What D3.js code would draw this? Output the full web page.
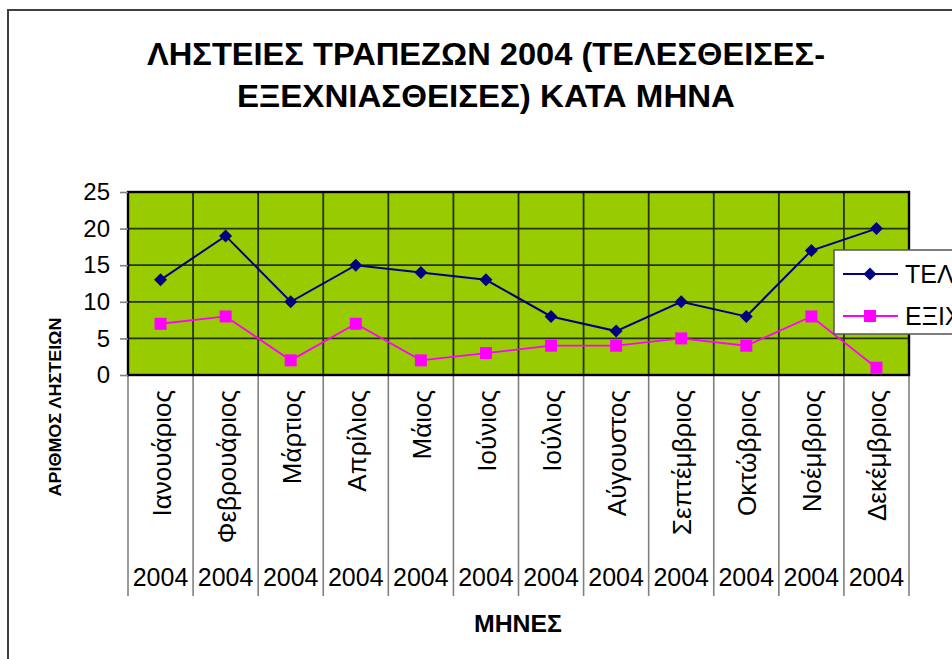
<!DOCTYPE html>
<html>
<head>
<meta charset="utf-8">
<script src="https://cdn.jsdelivr.net/npm/d3@7/dist/d3.min.js"></script>
<style>
  html, body { margin: 0; padding: 0; background: #fff; }
  svg { display: block; font-family: "Liberation Sans", Arial, sans-serif; }
</style>
</head>
<body>
<svg id="chart" width="952" height="659"></svg>
<script>
// Monthly bank robberies in 2004: committed vs. solved
const months = ["Ιανουάριος", "Φεβρουάριος", "Μάρτιος", "Απρίλιος", "Μάιος", "Ιούνιος",
                "Ιούλιος", "Αύγουστος", "Σεπτέμβριος", "Οκτώβριος", "Νοέμβριος", "Δεκέμβριος"];
const year = "2004";
const committed = [13, 19, 10, 15, 14, 13, 8, 6, 10, 8, 17, 20];
const solved = [7, 8, 2, 7, 2, 3, 4, 4, 5, 4, 8, 1];
const seriesNames = ["ΤΕΛΕΣΘΕΙΣΕΣ", "ΕΞΙΧΝΙΑΣΘΕΙΣΕΣ"];
const yTicks = [0, 5, 10, 15, 20, 25];
const titleLines = ["ΛΗΣΤΕΙΕΣ ΤΡΑΠΕΖΩΝ 2004 (ΤΕΛΕΣΘΕΙΣΕΣ-", "ΕΞΕΧΝΙΑΣΘΕΙΣΕΣ) ΚΑΤΑ ΜΗΝΑ"];
const xTitle = "ΜΗΝΕΣ";
const yTitle = "ΑΡΙΘΜΟΣ ΛΗΣΤΕΙΩΝ";

const svg = d3.select("#chart");

// chart area frame
svg.append("rect")
  .attr("x", 8).attr("y", 10).attr("width", 960).attr("height", 670)
  .attr("fill", "#fff").attr("stroke", "#404040").attr("stroke-width", 2);

const plot = { left: 128, right: 909, top: 192, bottom: 375 };
const x = d3.scaleBand().domain(months).range([plot.left, plot.right]).padding(0);
const y = d3.scaleLinear().domain([0, 25]).range([plot.bottom, plot.top]);
const cx = m => x(m) + x.bandwidth() / 2;

// plot background
svg.append("rect")
  .attr("x", plot.left).attr("y", plot.top)
  .attr("width", plot.right - plot.left).attr("height", plot.bottom - plot.top)
  .attr("fill", "#99cc00");

// gridlines
const grid = svg.append("g").attr("stroke", "#26300a").attr("stroke-width", 1.8);
grid.selectAll("line.h").data(yTicks.slice(1, -1)).join("line")
  .attr("x1", plot.left).attr("x2", plot.right)
  .attr("y1", d => y(d)).attr("y2", d => y(d));
grid.selectAll("line.v").data(months.slice(1)).join("line")
  .attr("x1", d => x(d)).attr("x2", d => x(d))
  .attr("y1", plot.top).attr("y2", plot.bottom);

// category separators below plot
svg.append("g").attr("stroke", "#808080").attr("stroke-width", 1.6)
  .selectAll("line").data(months.map(m => x(m)).concat([plot.right])).join("line")
  .attr("x1", d => d).attr("x2", d => d)
  .attr("y1", plot.bottom).attr("y2", 596);

// plot border
svg.append("rect")
  .attr("x", plot.left).attr("y", plot.top)
  .attr("width", plot.right - plot.left).attr("height", plot.bottom - plot.top)
  .attr("fill", "none").attr("stroke", "#000").attr("stroke-width", 2.4);

// y axis
const yAxis = svg.append("g")
  .attr("transform", `translate(${plot.left},0)`)
  .call(d3.axisLeft(y).tickValues(yTicks).tickSize(8).tickPadding(10));
yAxis.select(".domain").remove();
yAxis.selectAll(".tick line").attr("stroke", "#808080").attr("stroke-width", 1.6);
yAxis.selectAll(".tick text")
  .attr("font-size", 24).attr("fill", "#000")
  .attr("font-family", "Liberation Sans, Arial, sans-serif");

// month labels (rotated)
svg.append("g").selectAll("text").data(months).join("text")
  .attr("transform", d => `translate(${cx(d) + 1},390) rotate(-90)`)
  .attr("text-anchor", "end")
  .attr("dominant-baseline", "central")
  .attr("font-size", 26)
  .text(d => d);

// year labels
svg.append("g").selectAll("text").data(months).join("text")
  .attr("x", d => cx(d)).attr("y", 577)
  .attr("text-anchor", "middle")
  .attr("dominant-baseline", "central")
  .attr("font-size", 25)
  .text(year);

// lines and markers
const line = d3.line().x((d, i) => cx(months[i])).y(d => y(d));

svg.append("path").datum(committed)
  .attr("d", line).attr("fill", "none")
  .attr("stroke", "#000080").attr("stroke-width", 2);
svg.append("path").datum(solved)
  .attr("d", line).attr("fill", "none")
  .attr("stroke", "#ff00ff").attr("stroke-width", 1.8);

svg.append("g").selectAll("path").data(committed).join("path")
  .attr("d", d3.symbol().type(d3.symbolSquare).size(84))
  .attr("transform", (d, i) => `translate(${cx(months[i])},${y(d)}) rotate(45)`)
  .attr("fill", "#000080");
svg.append("g").selectAll("rect").data(solved).join("rect")
  .attr("x", (d, i) => cx(months[i]) - 6).attr("y", d => y(d) - 6)
  .attr("width", 12).attr("height", 12)
  .attr("fill", "#ff00ff");

// title
svg.append("g").selectAll("text").data(titleLines).join("text")
  .attr("x", 486).attr("y", (d, i) => 65 + i * 42)
  .attr("text-anchor", "middle")
  .attr("font-size", 31).attr("font-weight", "bold")
  .attr("textLength", (d, i) => i === 0 ? 678 : 498)
  .attr("lengthAdjust", "spacingAndGlyphs")
  .text(d => d);

// axis titles
svg.append("text")
  .attr("x", 518).attr("y", 623)
  .attr("text-anchor", "middle").attr("dominant-baseline", "central")
  .attr("font-size", 24).attr("font-weight", "bold")
  .attr("textLength", 88).attr("lengthAdjust", "spacingAndGlyphs")
  .text(xTitle);
svg.append("text")
  .attr("transform", "translate(55,407) rotate(-90)")
  .attr("text-anchor", "middle").attr("dominant-baseline", "central")
  .attr("font-size", 16).attr("font-weight", "bold")
  .attr("textLength", 179).attr("lengthAdjust", "spacingAndGlyphs")
  .text(yTitle);

// legend
const legend = svg.append("g");
legend.append("rect")
  .attr("x", 834).attr("y", 250).attr("width", 140).attr("height", 84)
  .attr("fill", "#fff").attr("stroke", "#555").attr("stroke-width", 1.5);
const rows = [
  { name: seriesNames[0], color: "#000080", shape: "diamond", yy: 274 },
  { name: seriesNames[1], color: "#ff00ff", shape: "square", yy: 316 }
];
rows.forEach(r => {
  legend.append("line")
    .attr("x1", 843).attr("x2", 898).attr("y1", r.yy).attr("y2", r.yy)
    .attr("stroke", r.color).attr("stroke-width", 2);
  if (r.shape === "diamond") {
    legend.append("path")
      .attr("d", d3.symbol().type(d3.symbolSquare).size(84))
      .attr("transform", `translate(870,${r.yy}) rotate(45)`)
      .attr("fill", r.color);
  } else {
    legend.append("rect")
      .attr("x", 870 - 6).attr("y", r.yy - 6).attr("width", 12).attr("height", 12)
      .attr("fill", r.color);
  }
  legend.append("text")
    .attr("x", 905).attr("y", r.yy)
    .attr("dominant-baseline", "central")
    .attr("font-size", 25)
    .text(r.name);
});
</script>
</body>
</html>
